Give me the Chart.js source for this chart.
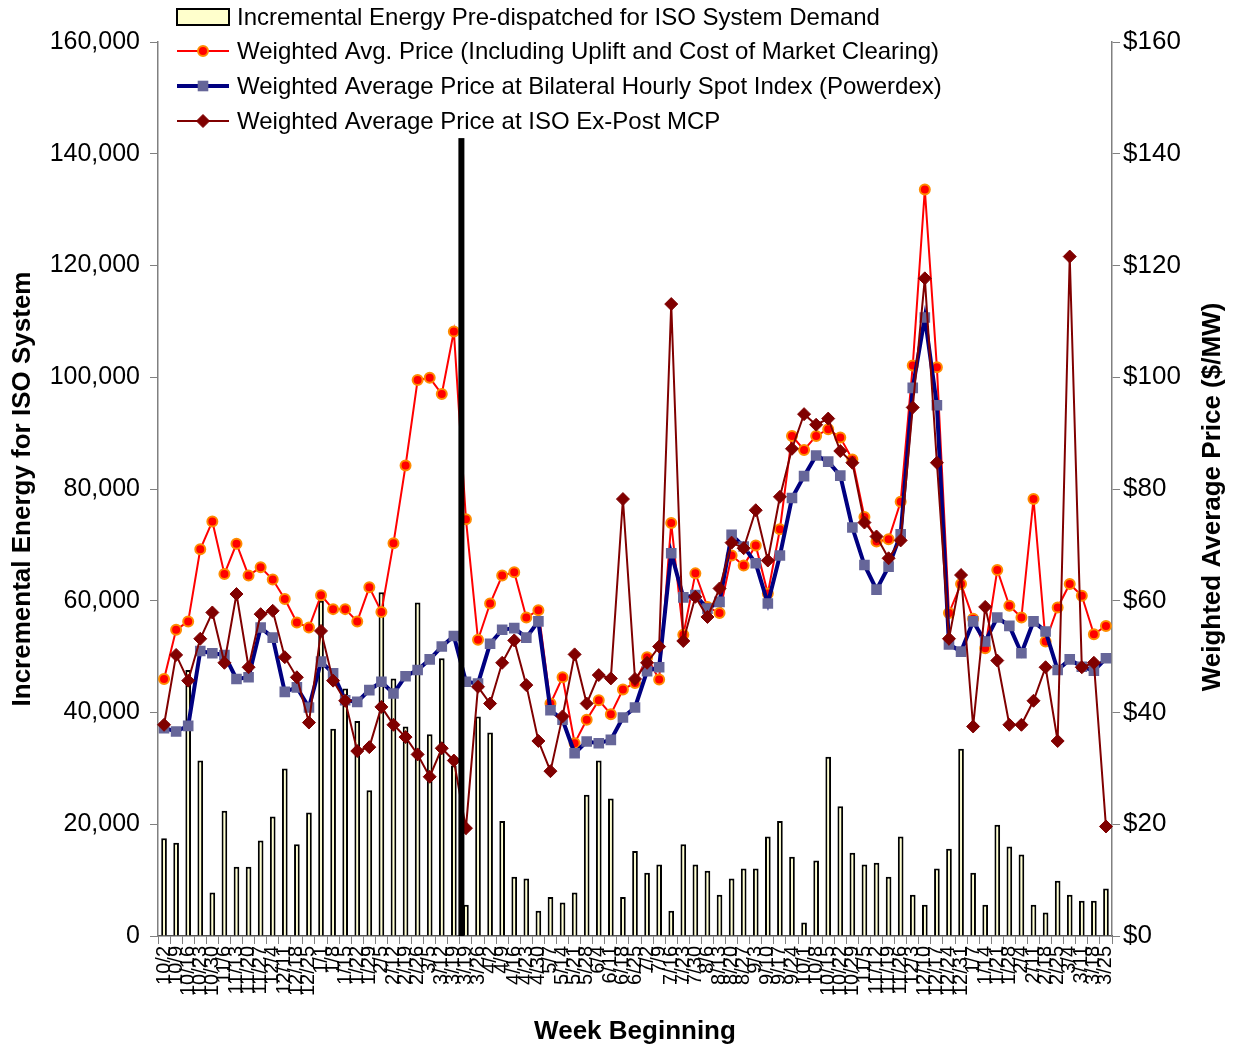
<!DOCTYPE html>
<html>
<head>
<meta charset="utf-8">
<script src="https://cdn.jsdelivr.net/npm/chart.js@4.4.1/dist/chart.umd.min.js"></script>
<style>
html,body{margin:0;padding:0;background:#fff;}
#wrap{width:1237px;height:1051px;position:relative;}
</style>
</head>
<body>
<div id="wrap"><canvas id="c" width="1237" height="1051"></canvas></div>
<script>
// ---- Data ----
const weeks = [
  "10/2","10/9","10/16","10/23","10/30","11/6","11/13","11/20","11/27","12/4","12/11","12/18","12/25",
  "1/1","1/8","1/15","1/22","1/29","2/5","2/12","2/19","2/26","3/5","3/12","3/19",
  "3/19","3/26","4/2","4/9","4/16","4/23","4/30","5/7","5/14","5/21","5/28","6/4","6/11","6/18","6/25",
  "7/2","7/9","7/16","7/23","7/30","8/6","8/13","8/20","8/27","9/3","9/10","9/17","9/24",
  "10/1","10/8","10/15","10/22","10/29","11/5","11/12","11/19","11/26","12/3","12/10","12/17","12/24","12/31",
  "1/7","1/14","1/21","1/28","2/4","2/11","2/18","2/25","3/4","3/11","3/18","3/25"
];

const incrementalEnergy = [
  17500,16700,47600,31400,7800,22400,12400,12400,17100,21400,30000,16400,22100,
  60000,37100,44300,38500,26100,61500,46100,37500,59700,36100,49700,30500,
  5600,39300,36400,20600,10600,10300,4500,7000,6000,7800,25300,31400,24600,7000,15200,
  11300,12800,4500,16400,12800,11700,7400,10300,12100,12100,17800,20600,14200,
  2400,13500,32100,23200,14900,12800,13100,10600,17800,7400,5600,12100,15600,33500,
  11300,5600,19900,16000,14600,5600,4200,9900,7400,6300,6300,8500
];

const weightedAvgPrice = [
  46.0,54.8,56.3,69.2,74.2,64.8,70.2,64.5,66.0,63.8,60.3,56.1,55.2,
  61.0,58.5,58.5,56.3,62.4,58.0,70.3,84.2,99.5,99.9,97.0,108.2,
  74.6,53.0,59.5,64.5,65.1,57.0,58.3,41.6,46.3,34.5,38.7,42.2,39.7,44.1,45.3,
  49.9,45.9,73.9,53.9,64.9,58.9,57.8,68.1,66.3,69.9,61.3,72.8,89.5,
  87.0,89.5,90.7,89.2,85.3,75.0,70.6,71.0,77.7,102.1,133.6,101.8,57.8,63.0,
  56.8,51.5,65.5,59.1,57.0,78.2,52.7,58.8,63.0,60.9,54.0,55.5
];

const powerdexPrice = [
  37.2,36.6,37.6,51.0,50.6,50.3,46.0,46.3,55.2,53.4,43.7,44.5,40.9,
  49.1,47.0,42.2,41.9,44.0,45.5,43.4,46.5,47.6,49.5,51.8,53.7,
  45.5,45.2,52.3,54.8,55.1,53.4,56.3,40.4,38.7,32.7,34.8,34.5,35.1,39.1,40.9,
  47.4,48.1,68.5,60.6,61.0,58.6,59.8,71.8,69.7,66.7,59.5,68.1,78.4,
  82.3,86.0,84.9,82.4,73.1,66.4,62.0,66.1,71.9,98.1,110.7,95.0,52.2,50.9,
  56.3,52.7,57.0,55.5,50.6,56.3,54.5,47.6,49.5,48.2,47.5,49.7
];

const exPostMcp = [
  37.8,50.3,45.7,53.2,57.9,48.9,61.2,48.1,57.6,58.2,49.9,46.3,38.2,
  54.6,45.7,42.1,33.1,33.8,41.0,37.8,35.6,32.5,28.5,33.6,31.4,
  19.3,44.6,41.6,48.9,52.9,44.9,34.9,29.5,39.3,50.4,41.6,46.7,46.1,78.2,46.0,
  48.9,51.8,113.1,52.8,60.7,57.1,62.2,70.4,69.4,76.2,67.2,78.6,87.2,
  93.4,91.5,92.6,86.8,84.7,74.0,71.5,67.6,70.8,94.6,117.7,84.7,53.2,64.6,
  37.5,58.9,49.3,37.8,37.8,42.1,48.1,34.9,121.6,48.1,48.9,19.6
];

const seriesNames = [
  "Incremental Energy Pre-dispatched for ISO System Demand",
  "Weighted Avg. Price (Including Uplift and Cost of Market Clearing)",
  "Weighted Average Price at Bilateral Hourly Spot Index (Powerdex)",
  "Weighted Average Price at ISO Ex-Post MCP"
];
const energyAxisMax = 160000, energyStep = 20000;
const priceAxisMax = 160, priceStep = 20;
const dividerAfterIndex = 24;   // black divider between these weeks
const dividerTopPrice = 142.8;

const FONT = '"Liberation Sans", Arial, Helvetica, sans-serif';

const overlay = {
  id: 'overlay',
  afterDatasetsDraw(chart) {
    const {ctx, scales} = chart;
    const x = scales.x, y1 = scales.y1;
    const xm = (x.getPixelForValue(dividerAfterIndex) + x.getPixelForValue(dividerAfterIndex + 1)) / 2 + 1.5;
    const top = y1.getPixelForValue(dividerTopPrice);
    const bot = y1.getPixelForValue(0);
    ctx.save();
    ctx.fillStyle = '#000';
    ctx.fillRect(xm - 3, top, 6, bot - top);
    ctx.restore();
  },
  afterDraw(chart) {
    const {ctx, chartArea} = chart;
    ctx.save();
    ctx.fillStyle = '#000';
    ctx.textAlign = 'center';
    ctx.textBaseline = 'middle';
    ctx.font = 'bold 26px ' + FONT;
    // left title
    ctx.save();
    ctx.translate(23, (chartArea.top + chartArea.bottom) / 2);
    ctx.rotate(-Math.PI / 2);
    ctx.fillText('Incremental Energy for ISO System', 0, 0);
    ctx.restore();
    // right title
    ctx.save();
    ctx.translate(1213, 497);
    ctx.rotate(-Math.PI / 2);
    ctx.fillText('Weighted Average Price ($/MW)', 0, 0);
    ctx.restore();
    // x title
    ctx.fillText('Week Beginning', (chartArea.left + chartArea.right) / 2, 1032);

    // legend
    const ds = chart.data.datasets;
    const x0 = 177, x1 = 229, xt = 237;
    const rows = [17, 51, 86, 121];
    ctx.textAlign = 'left';
    ctx.font = '24px ' + FONT;
    ds.forEach((d, i) => {
      const yy = rows[i];
      if (i === 0) {
        ctx.fillStyle = d.backgroundColor;
        ctx.fillRect(x0, yy - 8, x1 - x0, 16);
        ctx.lineWidth = 2;
        ctx.strokeStyle = '#000';
        ctx.strokeRect(x0, yy - 8, x1 - x0, 16);
      } else {
        ctx.strokeStyle = d.borderColor;
        ctx.lineWidth = d.borderWidth;
        ctx.beginPath();
        ctx.moveTo(x0, yy);
        ctx.lineTo(x1, yy);
        ctx.stroke();
        ctx.fillStyle = d.pointBackgroundColor;
        ctx.strokeStyle = d.pointBorderColor;
        ctx.lineWidth = d.pointBorderWidth;
        Chart.helpers.drawPoint(ctx, {pointStyle: d.pointStyle, radius: d.pointRadius, borderWidth: d.pointBorderWidth, rotation: 0}, (x0 + x1) / 2, yy);
      }
      ctx.fillStyle = '#000';
      ctx.fillText(d.label, xt, yy + 1);
    });
    ctx.restore();
  }
};

new Chart(document.getElementById('c'), {
  type: 'bar',
  data: {
    labels: weeks,
    datasets: [
      {
        type: 'bar', label: seriesNames[0], data: incrementalEnergy, yAxisID: 'y',
        backgroundColor: '#FFFFCC', borderColor: '#000000', borderWidth: 2,
        barPercentage: 0.47, categoryPercentage: 1.0, order: 4
      },
      {
        type: 'line', label: seriesNames[1], data: weightedAvgPrice, yAxisID: 'y1',
        borderColor: '#FF0000', borderWidth: 2, tension: 0,
        pointStyle: 'circle', pointRadius: 5, pointBorderWidth: 2,
        pointBackgroundColor: '#FF0000', pointBorderColor: '#FF8C00', order: 3
      },
      {
        type: 'line', label: seriesNames[2], data: powerdexPrice, yAxisID: 'y1',
        borderColor: '#000080', borderWidth: 4, tension: 0,
        pointStyle: 'rect', pointRadius: 7.5, pointBorderWidth: 0,
        pointBackgroundColor: '#666699', pointBorderColor: '#666699', order: 2
      },
      {
        type: 'line', label: seriesNames[3], data: exPostMcp, yAxisID: 'y1',
        borderColor: '#800000', borderWidth: 2, tension: 0,
        pointStyle: 'rectRot', pointRadius: 6.5, pointBorderWidth: 1,
        pointBackgroundColor: '#800000', pointBorderColor: '#800000', order: 1
      }
    ]
  },
  options: {
    responsive: false,
    animation: false,
    devicePixelRatio: 1,
    layout: {padding: {top: 42, left: 0, right: 0, bottom: 0}},
    plugins: {legend: {display: false}, tooltip: {enabled: false}},
    scales: {
      x: {
        offset: true,
        grid: {display: true, drawOnChartArea: false, offset: true, tickLength: 8, color: '#808080'},
        border: {display: true, color: '#555555', width: 1.5},
        ticks: {autoSkip: false, maxRotation: 90, minRotation: 90, padding: 2,
                color: '#000', font: {family: FONT, size: 20}},
        afterFit(s) { s.height = 115; }
      },
      y: {
        position: 'left', min: 0, max: energyAxisMax,
        grid: {drawOnChartArea: false, tickLength: 8, color: '#808080'},
        border: {display: true, color: '#808080', width: 1.5},
        ticks: {stepSize: energyStep, padding: 10, color: '#000',
                font: {family: FONT, size: 25},
                callback: v => v.toLocaleString('en-US')},
        afterFit(s) { s.width = 158; }
      },
      y1: {
        position: 'right', min: 0, max: priceAxisMax,
        grid: {drawOnChartArea: false, tickLength: 8, color: '#808080'},
        border: {display: true, color: '#808080', width: 1.5},
        ticks: {stepSize: priceStep, padding: 3, color: '#000',
                font: {family: FONT, size: 26},
                callback: v => '$' + v},
        afterFit(s) { s.width = 125; }
      }
    }
  },
  plugins: [overlay]
});
</script>
</body>
</html>
